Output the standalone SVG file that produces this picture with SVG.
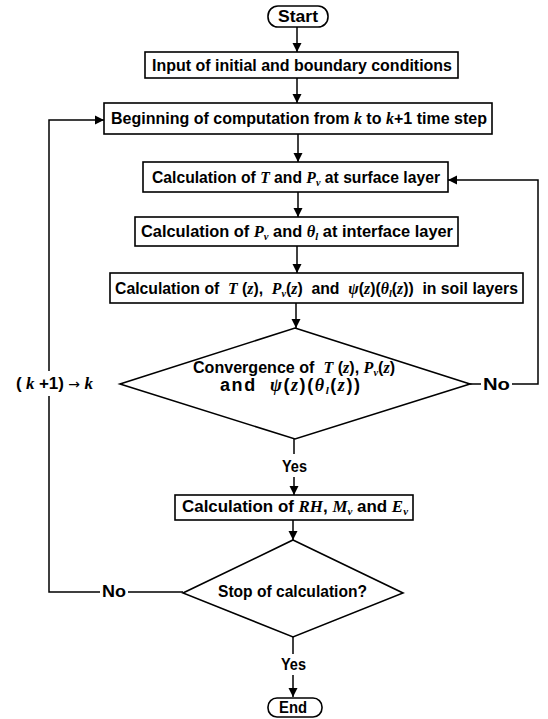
<svg xmlns="http://www.w3.org/2000/svg" width="548" height="719" viewBox="0 0 548 719">
<style>
.box{fill:#fff;stroke:#000;stroke-width:1.6}
.ln{fill:none;stroke:#000;stroke-width:1.5}
.t{font-family:"Liberation Sans",Arial,sans-serif;font-weight:bold;font-size:17px;fill:#000}
.i{font-family:"Liberation Serif","Times New Roman",serif;font-style:italic;font-weight:bold}
.a{font-family:"DejaVu Sans",sans-serif;font-weight:normal;font-size:14px}
.s{font-size:11px}
</style>
<defs>
<marker id="ah" viewBox="0 0 10 10" refX="10" refY="5" markerWidth="9" markerHeight="10" markerUnits="userSpaceOnUse" orient="auto"><path d="M0,0 L10,5 L0,10 z" fill="#000"/></marker>
</defs>
<rect width="548" height="719" fill="#fff"/>
<g id="connectors">
<path class="ln" d="M297,27 V52" marker-end="url(#ah)"/>
<path class="ln" d="M297,78 V103" marker-end="url(#ah)"/>
<path class="ln" d="M298,134 V162" marker-end="url(#ah)"/>
<path class="ln" d="M298,192 V217" marker-end="url(#ah)"/>
<path class="ln" d="M297,246 V273" marker-end="url(#ah)"/>
<path class="ln" d="M296,303 V328" marker-end="url(#ah)"/>
<path class="ln" d="M294,439 V454"/>
<path class="ln" d="M294,477 V495" marker-end="url(#ah)"/>
<path class="ln" d="M293,520 V540" marker-end="url(#ah)"/>
<path class="ln" d="M293,637 V654"/>
<path class="ln" d="M293,675 V697" marker-end="url(#ah)"/>
<path class="ln" d="M470,384 H481 M512,384 H538 V180 H448" marker-end="url(#ah)"/>
<path class="ln" d="M183,592 H128 M100,592 H49 V396 M49,371 V120 H104" marker-end="url(#ah)"/>
<text class="t" x="483" y="390" textLength="27" lengthAdjust="spacingAndGlyphs">No</text>
<text class="t" x="102" y="597" textLength="24" lengthAdjust="spacingAndGlyphs">No</text>
<text class="t" x="282" y="472" textLength="25" lengthAdjust="spacingAndGlyphs">Yes</text>
<text class="t" x="281" y="670" textLength="25" lengthAdjust="spacingAndGlyphs">Yes</text>
<text class="t" x="16" y="389" textLength="77" lengthAdjust="spacing" xml:space="preserve">( <tspan class="i">k</tspan> +1) <tspan class="a">→</tspan> <tspan class="i">k</tspan></text>
</g>
<g id="start">
<rect class="box" x="268" y="6" width="60" height="21" rx="10"/>
<text class="t" x="278" y="22" textLength="40" lengthAdjust="spacingAndGlyphs">Start</text>
</g>
<g id="input">
<rect class="box" x="145" y="52" width="313" height="26"/>
<text class="t" x="152" y="71" textLength="300" lengthAdjust="spacingAndGlyphs">Input of initial and boundary conditions</text>
</g>
<g id="beginning">
<rect class="box" x="104" y="103" width="388" height="31"/>
<text class="t" x="111" y="124" textLength="376" lengthAdjust="spacingAndGlyphs">Beginning of computation from <tspan class="i">k</tspan> to <tspan class="i">k</tspan>+1 time step</text>
</g>
<g id="surface">
<rect class="box" x="143" y="162" width="305" height="30"/>
<text class="t" x="152" y="183" textLength="288" lengthAdjust="spacingAndGlyphs">Calculation of <tspan class="i">T</tspan> and <tspan class="i">P</tspan><tspan class="i s" dy="3">v</tspan><tspan dy="-3"> at surface layer</tspan></text>
</g>
<g id="interface">
<rect class="box" x="135" y="217" width="323" height="29"/>
<text class="t" x="141" y="237" textLength="312" lengthAdjust="spacingAndGlyphs">Calculation of <tspan class="i">P</tspan><tspan class="i s" dy="3">v</tspan><tspan dy="-3"> and  </tspan><tspan class="i">θ</tspan><tspan class="i s" dy="3">l</tspan><tspan dy="-3"> at interface layer</tspan></text>
</g>
<g id="soil">
<rect class="box" x="110" y="273" width="413" height="30"/>
<text class="t" x="115" y="294" textLength="403" lengthAdjust="spacingAndGlyphs" xml:space="preserve">Calculation of  <tspan class="i">T</tspan> (<tspan class="i">z</tspan>),  <tspan class="i">P</tspan><tspan class="i s" dy="3">v</tspan><tspan dy="-3">(</tspan><tspan class="i">z</tspan>)  and  <tspan class="i">ψ</tspan>(<tspan class="i">z</tspan>)(<tspan class="i">θ</tspan><tspan class="i s" dy="3">l</tspan><tspan dy="-3">(</tspan><tspan class="i">z</tspan>))  in soil layers</text>
</g>
<g id="convergence">
<polygon class="box" points="295,328 470,384 295,439 120,384"/>
<text class="t" x="193" y="373" textLength="202" lengthAdjust="spacingAndGlyphs" xml:space="preserve">Convergence of  <tspan class="i">T</tspan> (<tspan class="i">z</tspan>), <tspan class="i">P</tspan><tspan class="i s" dy="3">v</tspan><tspan dy="-3">(</tspan><tspan class="i">z</tspan>)</text>
<text class="t" x="220" y="391" style="font-size:18px" textLength="140" lengthAdjust="spacing" xml:space="preserve">and  <tspan class="i">ψ</tspan>(<tspan class="i">z</tspan>)(<tspan class="i">θ</tspan><tspan class="i s" dy="3">l</tspan><tspan dy="-3">(</tspan><tspan class="i">z</tspan>))</text>
</g>
<g id="rh">
<rect class="box" x="175" y="495" width="238" height="25"/>
<text class="t" x="182" y="512" textLength="226" lengthAdjust="spacingAndGlyphs">Calculation of <tspan class="i">RH</tspan>, <tspan class="i">M</tspan><tspan class="i s" dy="3">v</tspan><tspan dy="-3"> and </tspan><tspan class="i">E</tspan><tspan class="i s" dy="3">v</tspan></text>
</g>
<g id="stop">
<polygon class="box" points="293,540 403,593 293,637 183,593"/>
<text class="t" x="218" y="597" textLength="149" lengthAdjust="spacingAndGlyphs">Stop of calculation?</text>
</g>
<g id="end">
<rect class="box" x="268" y="698" width="54" height="19" rx="9"/>
<text class="t" x="279" y="713" textLength="28" lengthAdjust="spacingAndGlyphs">End</text>
</g>
</svg>
